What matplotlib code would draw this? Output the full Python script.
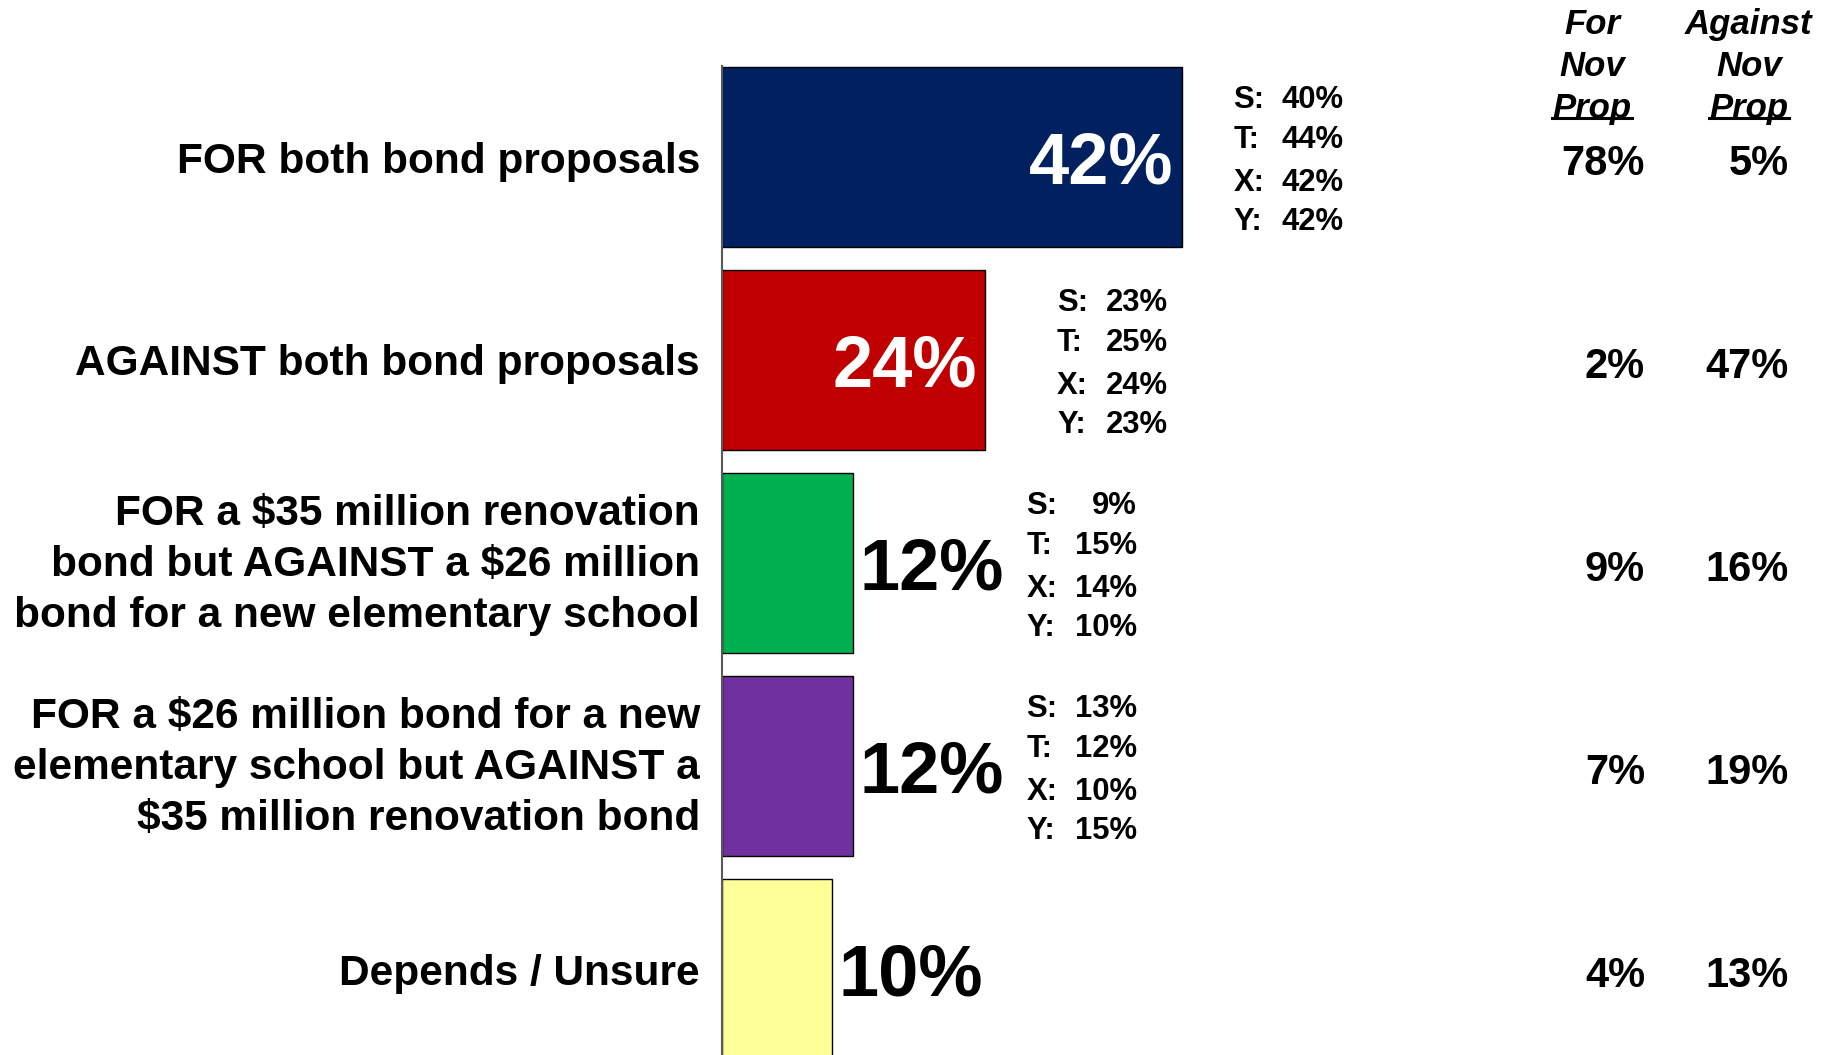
import numpy as np
import matplotlib.pyplot as plt
from matplotlib import rcParams
from matplotlib.lines import Line2D
from matplotlib import transforms

rcParams['font.family'] = ['Liberation Sans', 'DejaVu Sans']
rcParams['font.weight'] = 'bold'

# vote combinations, top to bottom
categories = [
    "FOR both bond proposals",
    "AGAINST both bond proposals",
    "FOR a \\$35 million renovation\nbond but AGAINST a \\$26 million\nbond for a new elementary school",
    "FOR a \\$26 million bond for a new\nelementary school but AGAINST a\n\\$35 million renovation bond",
    "Depends / Unsure",
]
totals = [42, 24, 12, 12, 10]

# subgroup breakdown (none shown for the last row)
group_names = ["S", "T", "X", "Y"]
s_vals = [40, 23, 9, 13]
t_vals = [44, 25, 15, 12]
x_vals = [42, 24, 14, 10]
y_vals = [42, 23, 10, 15]

# crosstab against the November proposition
for_nov = [78, 2, 9, 7, 4]
against_nov = [5, 47, 16, 19, 13]

colors = ["#002060", "#C00000", "#00B050", "#7030A0", "#FFFF99"]

W, H = 1836, 1055
fig = plt.figure(figsize=(W / 100, H / 100), dpi=100)

x0 = 722          # bar baseline in pixels
px_pct = 10.95    # pixels per percent
row_px = 203      # pixels between rows
top_px = 66
first_center = 157
ax = fig.add_axes([x0 / W, 0, (W - x0) / W, 1 - top_px / H])
ax.set_xlim(0, (W - x0) / px_pct)
ax.set_ylim((H - first_center) / row_px, -(first_center - top_px) / row_px)

ypos = np.arange(len(categories))
ax.barh(ypos, totals, height=0.885, color=colors, edgecolor="black", linewidth=1.0)

for s in ["top", "right", "bottom"]:
    ax.spines[s].set_visible(False)
ax.spines["left"].set_color("#595959")
ax.spines["left"].set_linewidth(1.5)
ax.set_xticks([])
ax.set_yticks([])

# category labels, right aligned just left of the baseline
ylab = ax.get_yaxis_transform()
for i, cat in enumerate(categories):
    multi = "\n" in cat
    ax.text(-22 / (W - x0), i + (0.01 if multi else 0), cat, transform=ylab, ha="right",
            va="center" if multi else "center_baseline",
            fontsize=30.5, linespacing=1.34, color="black")

# big value labels: inside wide bars, outside narrow ones
for i, v in enumerate(totals):
    if v >= 20:
        ax.text(v - 0.75, i, f"{v}%", ha="right", va="center_baseline",
                fontsize=52, color="white")
    else:
        ax.text(v + 0.6, i, f"{v}%", ha="left", va="center_baseline",
                fontsize=52, color="black")

# subgroup breakdown blocks
block_x = [46.7, 30.6, 27.8, 27.8]
line_off = [-0.296, -0.103, 0.113, 0.305]
groups = list(zip(s_vals, t_vals, x_vals, y_vals))
for i, vals in enumerate(groups):
    for j, (g, val) in enumerate(zip(group_names, vals)):
        yy = i + line_off[j]
        ax.text(block_x[i], yy, f"{g}:", ha="left", va="center_baseline", fontsize=22.3)
        ax.text(block_x[i] + 10.1, yy, f"{val}%", ha="right", va="center_baseline",
                fontsize=22.3)

# right-hand crosstab columns
col_tr = transforms.blended_transform_factory(fig.transFigure, ax.transData)
for i in range(len(categories)):
    ax.text(1645 / W, i + 0.01, f"{for_nov[i]}%", transform=col_tr, ha="right",
            va="center_baseline", fontsize=30)
    ax.text(1789 / W, i + 0.01, f"{against_nov[i]}%", transform=col_tr, ha="right",
            va="center_baseline", fontsize=30)

headers = [(1592, ["For", "Nov", "Prop"]), (1749, ["Against", "Nov", "Prop"])]
head_y = [21, 63, 105]
prop_texts = []
for hx, lines in headers:
    for k, word in enumerate(lines):
        t = fig.text(hx / W, 1 - head_y[k] / H, word, ha="center", va="center_baseline",
                     fontsize=25, style="italic")
        if k == 2:
            prop_texts.append(t)

# underline the last header line
fig.canvas.draw()
r = fig.canvas.get_renderer()
for t in prop_texts:
    bb = t.get_window_extent(renderer=r)
    uy = (H - 118) / H
    fig.add_artist(Line2D([bb.x0 / W, bb.x1 / W], [uy, uy], transform=fig.transFigure,
                          color="black", linewidth=2.2))

fig.savefig("out.png", dpi=100)
